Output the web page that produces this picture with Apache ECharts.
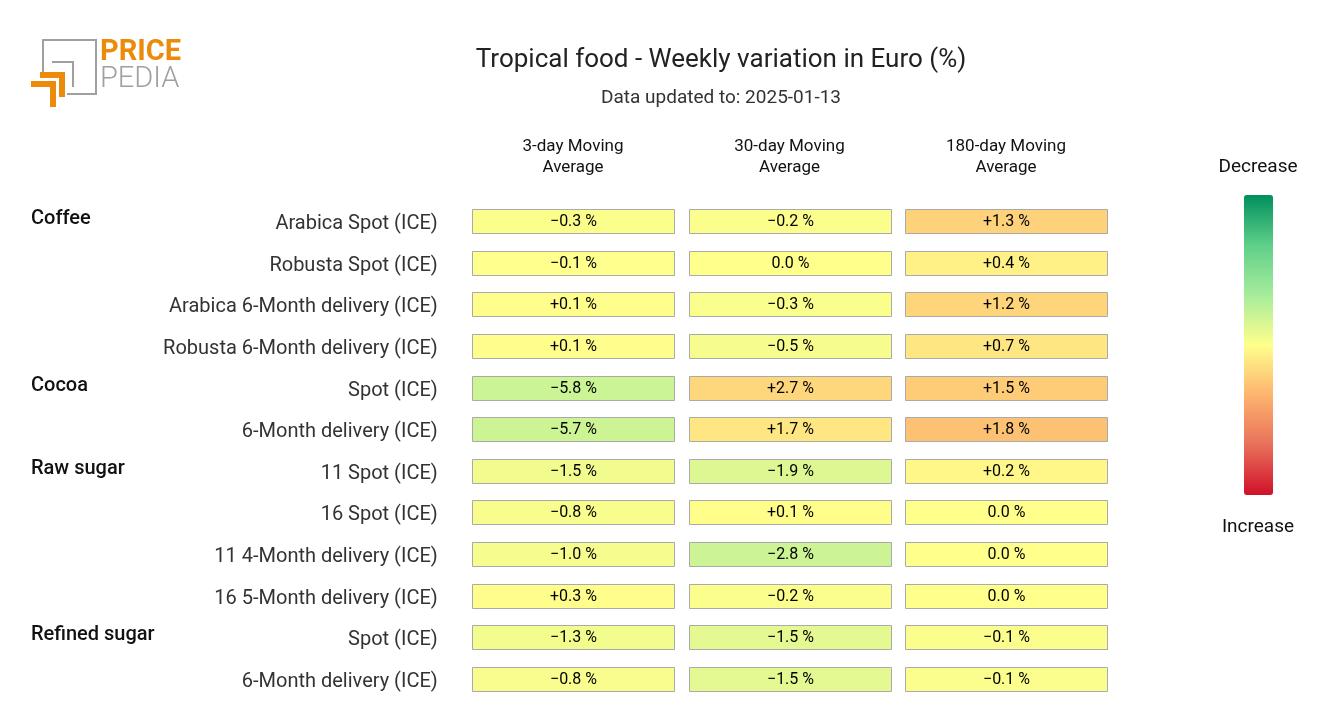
<!DOCTYPE html>
<html>
<head>
<meta charset="utf-8">
<script src="https://cdn.jsdelivr.net/npm/echarts@6/dist/echarts.min.js"></script>
<style>html,body{margin:0;padding:0;background:#fff}#c{width:1320px;height:720px}</style>
</head>
<body>
<div id="c"></div>
<script>
const categories = ['Arabica Spot (ICE)','Robusta Spot (ICE)','Arabica 6-Month delivery (ICE)','Robusta 6-Month delivery (ICE)','Spot (ICE)','6-Month delivery (ICE)','11 Spot (ICE)','16 Spot (ICE)','11 4-Month delivery (ICE)','16 5-Month delivery (ICE)','Spot (ICE)','6-Month delivery (ICE)'];
const groupNames = ['Coffee','','','','Cocoa','','Raw sugar','','','','Refined sugar',''];
const columns = ['3-day Moving\nAverage','30-day Moving\nAverage','180-day Moving\nAverage'];
const ma3 = [-0.3,-0.1,0.1,0.1,-5.8,-5.7,-1.5,-0.8,-1.0,0.3,-1.3,-0.8];
const ma30 = [-0.2,0.0,-0.3,-0.5,2.7,1.7,-1.9,0.1,-2.8,-0.2,-1.5,-1.5];
const ma180 = [1.3,0.4,1.2,0.7,1.5,1.8,0.2,0.0,0.0,0.0,-0.1,-0.1];
const colorScale = [30, 15, 6.5];

const cols = [ma3, ma30, ma180];
const data = [];
cols.forEach((arr, ci) => arr.forEach((v, ri) => data.push([ci, ri, v, v / colorScale[ci]])));

function fmt(v){
  if (v > 0) return '+' + v.toFixed(1) + ' %';
  if (v < 0) return '\u2212' + Math.abs(v).toFixed(1) + ' %';
  return '0.0 %';
}

const chart = echarts.init(document.getElementById('c'));
const orange = '#ec8a0a', gray = '#a0a0a0';
const cellW = 202, cellH = 24;
chart.setOption({
  animation: false,
  textStyle: {fontFamily: 'Roboto'},
  grid: {left: 464.75, width: 649.5, top: 200.2, height: 499.6},
  xAxis: {
    type: 'category', data: columns, position: 'top',
    axisLine: {show: false}, axisTick: {show: false}, splitLine: {show: false},
    axisLabel: {margin: 22, fontSize: 17, lineHeight: 21, color: '#111', interval: 0}
  },
  yAxis: [{
    type: 'category', data: categories, inverse: true,
    axisLine: {show: false}, axisTick: {show: false}, splitLine: {show: false},
    axisLabel: {margin: 27, interval: 0,
      formatter: v => '{a|' + v + '}',
      rich: {a: {fontSize: 20, color: '#333', fontFamily: 'Roboto', padding: [6, 0, 0, 0]}}}
  }, {
    type: 'category', data: groupNames, inverse: true, position: 'left',
    axisLine: {show: false}, axisTick: {show: false}, splitLine: {show: false},
    axisLabel: {margin: 433.75, align: 'left', interval: 0,
      formatter: v => v ? '{g|' + v + '}' : '',
      rich: {g: {fontSize: 20, fontWeight: 500, color: '#111', fontFamily: 'Roboto', padding: [0, 0, 4, 0]}}}
  }],
  visualMap: {
    type: 'continuous', min: -1, max: 1, dimension: 3, inverse: true,
    calculable: false, seriesIndex: 0,
    left: 1229, top: 180, itemWidth: 29, itemHeight: 300, text: null, showLabel: false,
    inRange: {color: ['#008f5d','#5fcf8a','#a6ec9b','#ffff8c','#fdb46e','#e8705a','#d0102a']}
  },
  series: [{
    type: 'custom', data: data,
    encode: {x: 0, y: 1},
    renderItem: function(params, api){
      const c = api.coord([api.value(0), api.value(1)]);
      return {
        type: 'rect',
        shape: {x: Math.round(c[0] - cellW / 2) + 0.5, y: Math.round(c[1] - cellH / 2) + 0.5, width: cellW, height: cellH},
        style: {fill: api.visual('color'), stroke: '#aaaaaa', lineWidth: 1},
        textContent: {style: {text: fmt(api.value(2)), fill: '#000', fontSize: 16, fontFamily: 'Roboto'}},
        textConfig: {position: 'inside'}
      };
    }
  }],
  graphic: [
    {type: 'text', x: 721, y: 60, style: {text: 'Tropical food - Weekly variation in Euro (%)', fontSize: 26, fill: '#222', fontFamily: 'Roboto', align: 'center', verticalAlign: 'middle'}},
    {type: 'text', x: 721, y: 98, style: {text: 'Data updated to: 2025-01-13', fontSize: 19, fill: '#333', fontFamily: 'Roboto', align: 'center', verticalAlign: 'middle'}},
    {type: 'text', x: 1258, y: 167, style: {text: 'Decrease', fontSize: 19, fill: '#111', fontFamily: 'Roboto', align: 'center', verticalAlign: 'middle'}},
    {type: 'text', x: 1258, y: 527, style: {text: 'Increase', fontSize: 19, fill: '#111', fontFamily: 'Roboto', align: 'center', verticalAlign: 'middle'}},
    // logo
    {type: 'polyline', shape: {points: [[43,72],[43,40],[96,40],[96,94],[67,94]]}, style: {stroke: gray, lineWidth: 2, fill: null}},
    {type: 'polyline', shape: {points: [[52,62],[73,62],[73,87]]}, style: {stroke: gray, lineWidth: 2, fill: null}},
    {type: 'rect', shape: {x: 40, y: 72, width: 25, height: 6}, style: {fill: orange}},
    {type: 'rect', shape: {x: 59, y: 72, width: 6, height: 25}, style: {fill: orange}},
    {type: 'rect', shape: {x: 31, y: 81, width: 25, height: 6}, style: {fill: orange}},
    {type: 'rect', shape: {x: 50, y: 81, width: 6, height: 26}, style: {fill: orange}},
    {type: 'text', x: 100, y: 53, style: {text: 'PRICE', fontSize: 29, fontWeight: 'bold', fill: orange, fontFamily: 'Roboto', verticalAlign: 'middle'}},
    {type: 'text', x: 100, y: 80, style: {text: 'PEDIA', fontSize: 29, fontWeight: 300, fill: gray, fontFamily: 'Roboto', verticalAlign: 'middle'}}
  ]
});
</script>
</body>
</html>
